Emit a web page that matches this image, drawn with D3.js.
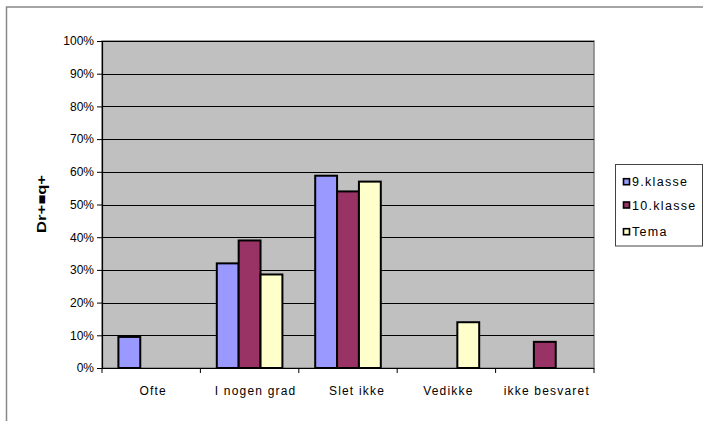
<!DOCTYPE html>
<html>
<head>
<meta charset="utf-8">
<script src="https://cdn.jsdelivr.net/npm/d3@7"></script>
<style>
  html, body { margin: 0; padding: 0; background: #fff; }
  svg { display: block; font-family: Arial, "Liberation Sans", sans-serif; }
</style>
</head>
<body>
<svg id="chart" width="703" height="421"></svg>
<script>
// Answer categories along the x axis
const categories = ["Ofte", "I nogen grad", "Slet ikke", "Vedikke", "ikke besvaret"];
// Series names (legend)
const seriesNames = ["9.klasse", "10.klasse", "Tema"];
// Share of answers in percent, one array per series, in category order
const klasse9 = [9.5, 32, 58.8, 0, 0];
const klasse10 = [0, 39, 54, 0, 8];
const tema = [0, 28.6, 57, 14, 0];
const seriesColors = ["#9999FF", "#993366", "#FFFFCC"];
// Y axis ticks
const yTicks = [0, 10, 20, 30, 40, 50, 60, 70, 80, 90, 100];
const yTitle = "Dr+■q+";

const seriesValues = [klasse9, klasse10, tema];

const svg = d3.select("#chart");
const plot = { left: 102, right: 594, top: 41, bottom: 368 };

// Outer chart frame
svg.append("rect")
  .attr("x", 6.5).attr("y", 7)
  .attr("width", 760).attr("height", 480)
  .attr("fill", "#fff")
  .attr("stroke", "#888").attr("stroke-width", 1.5);

const x = d3.scaleBand().domain(categories).range([plot.left, plot.right]).padding(0);
const xs = d3.scaleBand().domain(seriesNames).range([0, x.bandwidth()])
  .paddingInner(0).paddingOuter(0.75);
const y = d3.scaleLinear().domain([0, 100]).range([plot.bottom, plot.top]);

// Plot background
svg.append("rect")
  .attr("x", plot.left).attr("y", plot.top)
  .attr("width", plot.right - plot.left).attr("height", plot.bottom - plot.top)
  .attr("fill", "#C0C0C0")
  .attr("stroke", "#808080").attr("stroke-width", 1.5);

// Horizontal gridlines
svg.append("g").selectAll("line")
  .data(yTicks.filter(t => t > 0))
  .join("line")
  .attr("x1", plot.left).attr("x2", plot.right)
  .attr("y1", d => Math.round(y(d)) + 0.5).attr("y2", d => Math.round(y(d)) + 0.5)
  .attr("stroke", "#000").attr("stroke-width", 1);

// Bars
const groups = svg.append("g").selectAll("g")
  .data(categories)
  .join("g")
  .attr("transform", d => `translate(${x(d)},0)`);

groups.selectAll("rect")
  .data((c, i) => seriesNames.map((s, k) => ({ s, k, v: seriesValues[k][i] })).filter(d => d.v > 0))
  .join("rect")
  .attr("x", d => xs(d.s))
  .attr("y", d => y(d.v))
  .attr("width", xs.bandwidth())
  .attr("height", d => y(0) - y(d.v))
  .attr("fill", d => seriesColors[d.k])
  .attr("stroke", "#000").attr("stroke-width", 2);

// Y axis
const yAxis = d3.axisLeft(y).tickValues(yTicks).tickFormat(d => d + "%").tickSize(5).tickPadding(3);
const gy = svg.append("g").attr("transform", `translate(${plot.left},0)`).call(yAxis);
gy.select(".domain").attr("stroke", "#000").attr("stroke-width", 1.2);
gy.selectAll(".tick line").attr("stroke", "#000");
gy.selectAll(".tick text")
  .attr("font-size", 12).attr("fill", "#000")
  .attr("font-family", "Arial, 'Liberation Sans', sans-serif");

// X axis: ticks at category boundaries, labels centred below
const gx = svg.append("g").attr("transform", `translate(0,${plot.bottom})`);
gx.append("line")
  .attr("x1", plot.left).attr("x2", plot.right)
  .attr("y1", 0.5).attr("y2", 0.5)
  .attr("stroke", "#000").attr("stroke-width", 1.2);
const bounds = categories.map(c => x(c)).concat([plot.right]);
gx.selectAll("line.tk")
  .data(bounds)
  .join("line").attr("class", "tk")
  .attr("x1", d => d).attr("x2", d => d)
  .attr("y1", 0).attr("y2", 5)
  .attr("stroke", "#000");
gx.selectAll("text")
  .data(categories)
  .join("text")
  .attr("x", d => x(d) + x.bandwidth() / 2 + (d === "I nogen grad" ? 6 : d === "Slet ikke" ? 9 : 2))
  .attr("y", 27)
  .attr("text-anchor", "middle")
  .attr("font-size", 12)
  .attr("letter-spacing", 1.2)
  .attr("fill", "#000")
  .text(d => d);

// Y axis title
svg.append("text")
  .attr("transform", "translate(46,204) rotate(-90)")
  .attr("text-anchor", "middle")
  .attr("font-size", 12)
  .attr("font-weight", "bold")
  .attr("textLength", 58)
  .attr("lengthAdjust", "spacingAndGlyphs")
  .attr("fill", "#000")
  .text(yTitle);

// Legend
const legend = svg.append("g");
legend.append("rect")
  .attr("x", 615.5).attr("y", 164.5)
  .attr("width", 87).attr("height", 81.5)
  .attr("fill", "#fff").attr("stroke", "#444").attr("stroke-width", 1);
const items = legend.selectAll("g.item")
  .data(seriesNames)
  .join("g").attr("class", "item")
  .attr("transform", (d, i) => `translate(623,${[181.7, 205, 231.7][i]})`);
items.append("rect")
  .attr("x", 0.5).attr("y", -3)
  .attr("width", 6).attr("height", 6)
  .attr("fill", (d, i) => seriesColors[i])
  .attr("stroke", "#000").attr("stroke-width", 1.6);
items.append("text")
  .attr("x", 9).attr("y", 4.5)
  .attr("font-size", 12.5)
  .attr("letter-spacing", 1.3)
  .attr("fill", "#000")
  .text(d => d);
</script>
</body>
</html>
